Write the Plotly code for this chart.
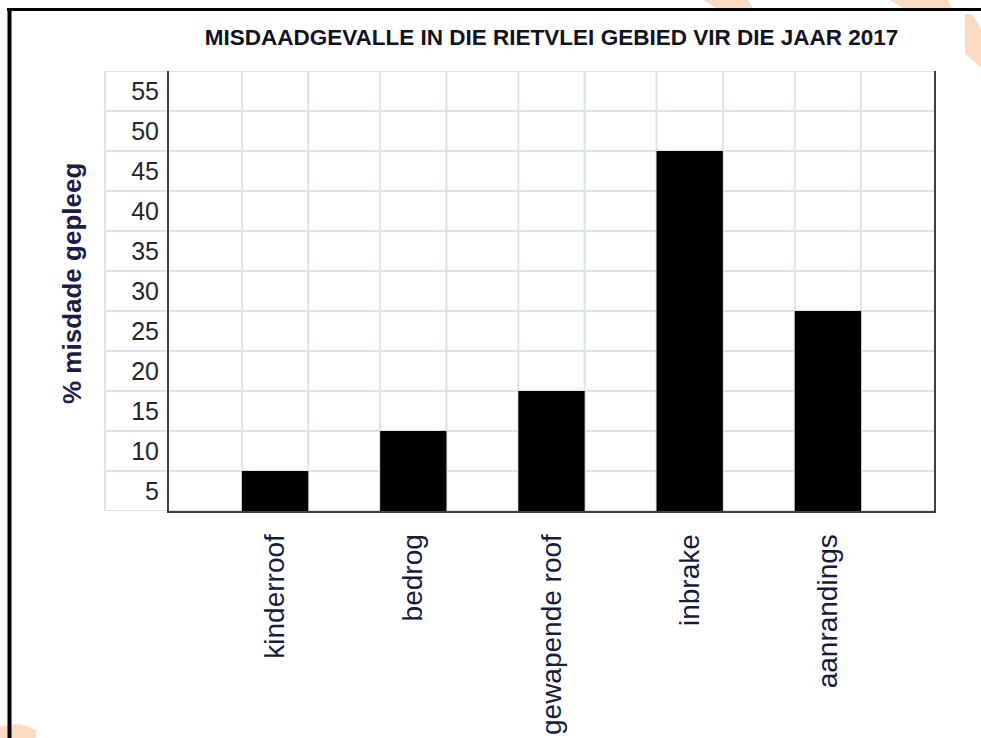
import plotly.graph_objects as go

categories = ["kinderroof", "bedrog", "gewapende roof", "inbrake", "aanrandings"]
values = [5, 10, 15, 45, 25]
y_tick_labels = ["5", "10", "15", "20", "25", "30", "35", "40", "45", "50", "55"]
y_grid_values = [0, 5, 10, 15, 20, 25, 30, 35, 40, 45, 50, 55]
title_text = "MISDAADGEVALLE IN DIE RIETVLEI GEBIED VIR DIE JAAR 2017"
y_title_text = "% misdade gepleeg"

W, H = 981, 738
PL, PR, PT, PB = 169, 934, 71, 511  # plot area in pixels


def px(xp):
    return (xp - PL) / (PR - PL)


def py(yp):
    return (PB - yp) / (PB - PT)


x_pos = list(range(len(categories)))
bar_w = 0.48

fig = go.Figure()
fig.add_trace(go.Bar(
    x=x_pos, y=values, width=bar_w,
    marker=dict(color="#000000", line=dict(width=0)),
    hoverinfo="skip",
))

grid_col = "#dbe1ee"
shapes = []
for gv in y_grid_values:
    shapes.append(dict(type="line", xref="paper", yref="y",
                       x0=px(105), x1=1, y0=gv, y1=gv,
                       line=dict(color=grid_col, width=2), layer="below"))
for i in x_pos:
    for d in (-bar_w / 2, bar_w / 2):
        shapes.append(dict(type="line", xref="x", yref="paper",
                           x0=i + d, x1=i + d, y0=0, y1=1,
                           line=dict(color=grid_col, width=2), layer="below"))
shapes.append(dict(type="line", xref="paper", yref="paper",
                   x0=px(105), x1=px(105), y0=0, y1=1,
                   line=dict(color=grid_col, width=2), layer="below"))

# page frame (black) lines
shapes.append(dict(type="line", xref="paper", yref="paper",
                   x0=px(7), x1=px(981), y0=py(9.5), y1=py(9.5),
                   line=dict(color="#000000", width=3)))
shapes.append(dict(type="line", xref="paper", yref="paper",
                   x0=px(9.5), x1=px(9.5), y0=py(8), y1=py(740),
                   line=dict(color="#000000", width=4)))

peach = "#fbdcc3"


def poly(pts):
    path = "M " + " L ".join(f"{px(a):.5f},{py(b):.5f}" for a, b in pts) + " Z"
    return dict(type="path", xref="paper", yref="paper", path=path,
                fillcolor=peach, line=dict(width=0), layer="below")


shapes.append(poly([(703, 0), (748, 0), (753, 8), (716, 8)]))
shapes.append(poly([(890, 0), (948, 0), (952, 8), (903, 8)]))
shapes.append(poly([(965, 14), (972, 14), (981, 28), (981, 67), (965, 54)]))
shapes.append(poly([(0, 726), (20, 724), (36, 730), (36, 738), (0, 738)]))

annotations = [dict(
    text=y_title_text, xref="paper", yref="paper",
    x=px(72), y=py(284), xanchor="center", yanchor="middle",
    textangle=-90, showarrow=False,
    font=dict(family="Liberation Sans, Arial, sans-serif", size=26,
              color="#1c1c44", weight="bold"),
)]

fig.update_layout(
    width=W, height=H,
    margin=dict(l=PL, r=W - PR, t=PT, b=H - PB, pad=0, autoexpand=False),
    paper_bgcolor="white", plot_bgcolor="white",
    showlegend=False,
    title=dict(
        text=title_text, x=0.5, xref="paper", xanchor="center",
        y=1 - 37 / H, yref="container", yanchor="middle",
        font=dict(family="Liberation Sans, Arial, sans-serif",
                  size=22.5, color="#111122", weight="bold"),
    ),
    xaxis=dict(
        range=[-0.7675, 4.7675], automargin=False,
        tickmode="array", tickvals=x_pos, ticktext=categories,
        tickangle=-90, ticks="", showgrid=False, zeroline=False,
        showline=True, linecolor="#404040", linewidth=2, mirror=False,
        ticklabelstandoff=10,
        tickfont=dict(family="Liberation Sans, Arial, sans-serif", size=28,
                      color="#1a1a3a"),
        fixedrange=True,
    ),
    yaxis=dict(
        range=[0, 55], automargin=False,
        tickmode="array",
        tickvals=[v - 2.5 for v in y_grid_values[1:]],
        ticktext=y_tick_labels,
        ticks="", showgrid=False, zeroline=False,
        showline=True, linecolor="#404040", linewidth=2, mirror=True,
        ticklabelstandoff=3,
        tickfont=dict(family="Liberation Sans, Arial, sans-serif", size=25,
                      color="#262626"),
        fixedrange=True,
    ),
    shapes=shapes,
    annotations=annotations,
)

fig.write_html(
    "out.html",
    config={"displayModeBar": False},
    post_script="document.body.style.margin='0';document.body.style.overflow='hidden';",
)
